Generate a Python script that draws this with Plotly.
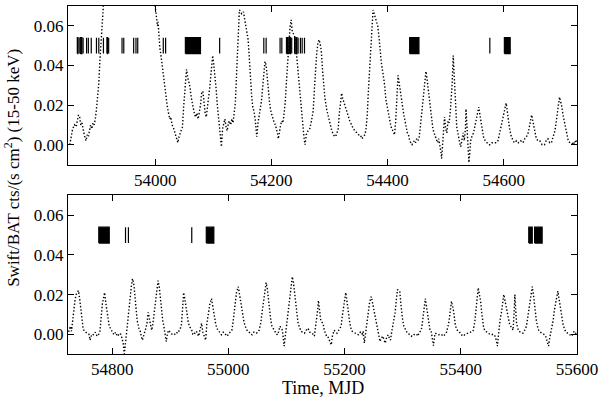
import plotly.graph_objs as go
from plotly.subplots import make_subplots

# Swift/BAT light curve, first part (top panel), MJD and rate
mjd_1 = [
    53853, 53856, 53858, 53861, 53864, 53866, 53868, 53870, 53872, 53874,
    53876, 53878, 53881, 53883, 53885, 53887, 53889, 53891, 53893, 53895,
    53897, 53899, 53901, 53903, 53905, 53907, 53909, 53911, 53913, 53996,
    53999, 54000, 54002, 54004, 54005, 54006, 54007, 54008, 54010, 54012,
    54014, 54016, 54018, 54019, 54021, 54023, 54025, 54027, 54029, 54031,
    54033, 54035, 54037, 54039, 54041, 54043, 54045, 54047, 54049, 54051,
    54053, 54054, 54056, 54058, 54060, 54062, 54064, 54066, 54068, 54070,
    54072, 54074, 54076, 54078, 54080, 54082, 54084, 54086, 54088, 54090,
    54092, 54094, 54096, 54098, 54099, 54101, 54103, 54105, 54107, 54109,
    54111, 54113, 54114, 54116, 54118, 54120, 54122, 54124, 54126, 54128,
    54130, 54132, 54134, 54136, 54138, 54139, 54141, 54143, 54145, 54147,
    54149, 54152, 54154, 54156, 54158, 54160, 54162, 54164, 54166, 54168,
    54170, 54172, 54174, 54175, 54177, 54179, 54181, 54183, 54185, 54187,
    54189, 54191, 54193, 54195, 54197, 54199, 54201, 54203, 54205, 54207,
    54209, 54211, 54212, 54214, 54216, 54218, 54220, 54222, 54224, 54226,
    54228, 54230, 54232, 54234, 54236, 54238, 54240, 54242, 54244, 54246,
    54248, 54250, 54252, 54254, 54256, 54258, 54260, 54263, 54266, 54269,
    54272, 54274, 54276, 54278, 54280, 54282, 54284, 54286, 54288, 54290,
    54292, 54295, 54298, 54301, 54304, 54307, 54309, 54312, 54315, 54317,
    54319, 54321, 54323, 54326, 54329, 54332, 54335, 54338, 54341, 54344,
    54347, 54350, 54353, 54356, 54358, 54361, 54363, 54365, 54367, 54369,
    54371, 54373, 54375, 54377, 54379, 54381, 54383, 54385, 54387, 54389,
    54391, 54393, 54395, 54397, 54400, 54402, 54404, 54406, 54409, 54412,
    54414, 54416, 54418, 54420, 54422, 54424, 54426, 54428, 54430, 54432,
    54434, 54436, 54438, 54440, 54442, 54444, 54446, 54448, 54450, 54452,
    54454, 54456, 54458, 54460, 54462, 54464, 54466, 54468, 54470, 54472,
    54474, 54476, 54478, 54480, 54482, 54484, 54486, 54488, 54490, 54492,
    54493, 54495, 54497, 54498, 54500, 54502, 54504, 54506, 54508, 54510,
    54511, 54513, 54515, 54516, 54518, 54519, 54521, 54522, 54524, 54526,
    54528, 54530, 54532, 54534, 54535, 54537, 54538, 54539, 54540, 54542,
    54543, 54545, 54548, 54550, 54552, 54554, 54557, 54559, 54561, 54563,
    54565, 54568, 54571, 54574, 54577, 54580, 54584, 54587, 54590, 54593,
    54595, 54598, 54600, 54602, 54604, 54606, 54608, 54610, 54613, 54616,
    54618, 54622, 54625, 54629, 54633, 54636, 54639, 54642, 54644, 54646,
    54648, 54650, 54652, 54654, 54656, 54659, 54662, 54666, 54670, 54673,
    54676, 54679, 54682, 54685, 54688, 54690, 54692, 54694, 54696, 54698,
    54700, 54702, 54705, 54708, 54711, 54714, 54717, 54720, 54722, 54725,
]
rate_1 = [
    0.000, 0.005, 0.008, 0.010, 0.009, 0.012, 0.015, 0.014, 0.010, 0.011,
    0.007, 0.005, 0.002, 0.005, 0.004, 0.008, 0.010, 0.008, 0.011, 0.010,
    0.013, 0.018, 0.023, 0.031, 0.043, 0.056, 0.066, 0.074, 0.080, 0.080,
    0.072, 0.069, 0.065, 0.060, 0.062, 0.055, 0.052, 0.049, 0.045, 0.040,
    0.034, 0.029, 0.025, 0.021, 0.019, 0.016, 0.013, 0.014, 0.010, 0.009,
    0.007, 0.005, 0.003, 0.001, 0.004, 0.006, 0.008, 0.009, 0.019, 0.027,
    0.033, 0.038, 0.034, 0.031, 0.029, 0.024, 0.021, 0.017, 0.015, 0.014,
    0.016, 0.013, 0.016, 0.020, 0.026, 0.027, 0.022, 0.016, 0.014, 0.018,
    0.024, 0.029, 0.036, 0.042, 0.045, 0.040, 0.035, 0.028, 0.020, 0.013,
    0.006, 0.000, -0.001, 0.008, 0.011, 0.013, 0.009, 0.007, 0.011, 0.012,
    0.010, 0.013, 0.011, 0.016, 0.021, 0.028, 0.039, 0.055, 0.068, 0.067,
    0.066, 0.067, 0.064, 0.060, 0.057, 0.053, 0.044, 0.033, 0.025, 0.019,
    0.017, 0.013, 0.006, 0.004, 0.011, 0.015, 0.017, 0.022, 0.029, 0.036,
    0.042, 0.040, 0.033, 0.027, 0.021, 0.017, 0.015, 0.012, 0.011, 0.010,
    0.008, 0.005, 0.003, 0.008, 0.010, 0.012, 0.011, 0.016, 0.022, 0.032,
    0.043, 0.051, 0.059, 0.063, 0.057, 0.056, 0.055, 0.050, 0.043, 0.036,
    0.030, 0.022, 0.016, 0.009, 0.004, 0.000, 0.005, 0.007, 0.008, 0.012,
    0.017, 0.028, 0.039, 0.046, 0.051, 0.053, 0.051, 0.047, 0.038, 0.031,
    0.024, 0.018, 0.014, 0.010, 0.007, 0.005, 0.004, 0.005, 0.008, 0.016,
    0.023, 0.026, 0.023, 0.020, 0.017, 0.014, 0.012, 0.010, 0.008, 0.007,
    0.006, 0.005, 0.005, 0.003, 0.004, 0.005, 0.008, 0.015, 0.027, 0.039,
    0.050, 0.060, 0.068, 0.066, 0.064, 0.063, 0.060, 0.055, 0.047, 0.042,
    0.038, 0.034, 0.030, 0.023, 0.019, 0.016, 0.012, 0.009, 0.007, 0.005,
    0.012, 0.025, 0.035, 0.031, 0.026, 0.022, 0.019, 0.015, 0.012, 0.009,
    0.006, 0.005, 0.002, 0.001, 0.000, 0.001, 0.002, 0.001, 0.003, 0.002,
    0.003, 0.008, 0.014, 0.020, 0.026, 0.032, 0.037, 0.033, 0.028, 0.021,
    0.016, 0.012, 0.008, 0.006, 0.004, 0.003, 0.001, 0.003, 0.000, -0.004,
    -0.007, 0.000, 0.010, 0.014, 0.008, 0.006, 0.012, 0.011, 0.017, 0.024,
    0.030, 0.045, 0.034, 0.026, 0.015, 0.009, 0.006, 0.004, 0.001, -0.001,
    0.004, 0.006, 0.002, 0.008, 0.018, 0.006, -0.001, -0.005, -0.009, -0.002,
    0.002, 0.004, 0.006, 0.009, 0.012, 0.015, 0.019, 0.015, 0.011, 0.007,
    0.004, 0.002, 0.001, 0.000, 0.000, 0.001, 0.001, 0.001, 0.002, 0.006,
    0.010, 0.013, 0.016, 0.019, 0.021, 0.017, 0.012, 0.008, 0.004, 0.002,
    0.001, 0.002, 0.001, 0.002, 0.001, 0.003, 0.004, 0.006, 0.009, 0.012,
    0.015, 0.012, 0.009, 0.005, 0.003, 0.002, 0.002, 0.000, 0.000, 0.002,
    0.003, 0.001, 0.001, 0.004, 0.007, 0.011, 0.017, 0.020, 0.024, 0.022,
    0.019, 0.015, 0.010, 0.005, 0.002, 0.001, 0.001, 0.000, 0.002, 0.001,
]

# second part (bottom panel)
mjd_2 = [
    54728, 54730, 54732, 54734, 54736, 54738, 54740, 54742, 54744, 54746,
    54748, 54750, 54752, 54755, 54758, 54760, 54762, 54765, 54768, 54771,
    54774, 54777, 54779, 54781, 54783, 54785, 54787, 54789, 54791, 54793,
    54795, 54797, 54800, 54803, 54806, 54809, 54812, 54814, 54817, 54819,
    54821, 54823, 54825, 54827, 54829, 54831, 54833, 54835, 54837, 54839,
    54841, 54843, 54846, 54848, 54850, 54852, 54854, 54856, 54858, 54860,
    54862, 54864, 54866, 54868, 54870, 54872, 54874, 54876, 54878, 54879,
    54881, 54883, 54885, 54887, 54889, 54891, 54893, 54895, 54897, 54900,
    54903, 54907, 54910, 54913, 54916, 54919, 54921, 54923, 54925, 54927,
    54929, 54931, 54933, 54935, 54937, 54939, 54941, 54943, 54945, 54947,
    54949, 54951, 54954, 54956, 54958, 54961, 54963, 54966, 54968, 54971,
    54973, 54975, 54978, 54980, 54983, 54986, 54988, 54991, 54994, 54997,
    55000, 55003, 55006, 55008, 55010, 55012, 55014, 55017, 55019, 55021,
    55023, 55025, 55027, 55029, 55032, 55035, 55038, 55041, 55044, 55048,
    55051, 55053, 55056, 55058, 55060, 55062, 55065, 55067, 55069, 55071,
    55073, 55075, 55078, 55080, 55083, 55085, 55087, 55089, 55091, 55093,
    55096, 55098, 55100, 55102, 55104, 55106, 55108, 55110, 55112, 55114,
    55116, 55118, 55120, 55123, 55125, 55128, 55131, 55134, 55137, 55140,
    55143, 55146, 55148, 55150, 55152, 55154, 55155, 55157, 55159, 55161,
    55163, 55165, 55167, 55169, 55171, 55174, 55177, 55179, 55182, 55185,
    55187, 55190, 55194, 55196, 55198, 55200, 55202, 55204, 55205, 55207,
    55209, 55211, 55213, 55216, 55218, 55221, 55224, 55227, 55230, 55232,
    55234, 55236, 55239, 55241, 55243, 55246, 55248, 55250, 55253, 55255,
    55257, 55259, 55261, 55263, 55266, 55268, 55270, 55272, 55275, 55277,
    55279, 55281, 55283, 55285, 55287, 55289, 55291, 55293, 55295, 55297,
    55298, 55300, 55302, 55305, 55308, 55311, 55315, 55318, 55321, 55324,
    55326, 55329, 55332, 55334, 55336, 55338, 55339, 55341, 55342, 55344,
    55345, 55347, 55349, 55351, 55353, 55355, 55356, 55359, 55362, 55366,
    55370, 55373, 55375, 55378, 55380, 55382, 55384, 55386, 55388, 55390,
    55391, 55394, 55397, 55400, 55404, 55408, 55413, 55417, 55421, 55424,
    55426, 55428, 55430, 55432, 55434, 55436, 55437, 55439, 55441, 55444,
    55447, 55450, 55453, 55456, 55459, 55461, 55463, 55465, 55466, 55468,
    55470, 55472, 55474, 55476, 55478, 55480, 55482, 55484, 55486, 55488,
    55490, 55492, 55493, 55495, 55496, 55498, 55500, 55503, 55507, 55510,
    55513, 55515, 55517, 55519, 55521, 55523, 55525, 55526, 55528, 55530,
    55532, 55534, 55537, 55540, 55543, 55546, 55548, 55551, 55553, 55555,
    55557, 55559, 55561, 55563, 55565, 55567, 55569, 55570, 55572, 55574,
    55576, 55578, 55581, 55584, 55587, 55590, 55593, 55595, 55598, 55600,
]
rate_2 = [
    0.004, 0.0015, 0.008, 0.013, 0.017, 0.020, 0.021, 0.022, 0.018, 0.012,
    0.007, 0.003, 0.0015, 0.001, 0.0005, 0.000, -0.003, 0.000, -0.0003, 0.001,
    -0.001, 0.000, 0.0015, 0.011, 0.015, 0.018, 0.021, 0.016, 0.012, 0.007,
    0.004, 0.003, 0.001, -0.0003, 0.001, -0.001, 0.000, 0.0005, -0.002, -0.0045,
    -0.010, -0.004, 0.0005, 0.006, 0.011, 0.018, 0.024, 0.028, 0.026, 0.020,
    0.014, 0.007, 0.003, 0.002, -0.001, -0.003, -0.001, 0.0005, 0.003, 0.0055,
    0.011, 0.008, 0.004, 0.002, 0.005, 0.010, 0.016, 0.021, 0.025, 0.027,
    0.024, 0.018, 0.011, 0.007, 0.004, 0.000, -0.0037, 0.000, 0.002, 0.001,
    0.000, -0.0003, 0.001, 0.0005, 0.002, 0.004, 0.012, 0.021, 0.018, 0.013,
    0.009, 0.006, 0.004, 0.003, 0.002, 0.000, -0.0003, 0.001, 0.0015, 0.000,
    -0.001, 0.002, 0.0055, 0.001, -0.001, -0.003, 0.0055, 0.012, 0.015, 0.018,
    0.014, 0.010, 0.0055, 0.003, 0.0015, 0.000, -0.0003, 0.001, 0.0005, -0.001,
    -0.0003, 0.001, 0.002, 0.006, 0.011, 0.016, 0.021, 0.024, 0.020, 0.017,
    0.013, 0.009, 0.006, 0.004, 0.002, 0.0015, 0.000, -0.0003, 0.001, 0.0005,
    0.001, 0.002, 0.006, 0.011, 0.016, 0.021, 0.026, 0.023, 0.017, 0.011,
    0.007, 0.004, 0.002, 0.0015, 0.000, -0.0003, 0.002, 0.004, 0.003, 0.002,
    -0.006, -0.001, 0.0015, 0.007, 0.013, 0.019, 0.024, 0.029, 0.026, 0.021,
    0.014, 0.010, 0.0055, 0.003, 0.0015, 0.001, 0.0005, 0.002, 0.003, 0.001,
    0.0005, 0.000, -0.001, 0.003, 0.007, 0.013, 0.017, 0.012, 0.007, 0.006,
    0.0055, 0.002, 0.0005, -0.001, -0.001, -0.003, -0.0054, -0.001, 0.002, 0.001,
    0.0005, 0.002, 0.004, 0.009, 0.014, 0.018, 0.021, 0.017, 0.014, 0.009,
    0.0055, 0.003, 0.0015, 0.001, 0.0005, 0.000, -0.0003, 0.001, 0.000, 0.0015,
    -0.0045, 0.000, 0.0055, 0.011, 0.016, 0.019, 0.016, 0.012, 0.007, 0.004,
    0.002, -0.001, -0.0037, -0.002, -0.001, -0.003, -0.0045, -0.002, -0.0003, -0.002,
    -0.003, 0.001, 0.004, 0.008, 0.011, 0.017, 0.0225, 0.022, 0.0217, 0.015,
    0.011, 0.007, 0.004, 0.002, 0.0005, 0.000, -0.001, 0.000, -0.0003, 0.000,
    -0.001, 0.001, 0.002, 0.006, 0.011, 0.016, 0.018, 0.014, 0.012, 0.007,
    0.004, 0.002, 0.0015, -0.002, -0.0058, -0.001, 0.0005, 0.000, -0.0003, 0.000,
    -0.001, 0.000, 0.0005, 0.004, 0.007, 0.012, 0.0166, 0.014, 0.011, 0.006,
    0.004, 0.002, 0.0015, 0.000, -0.001, 0.000, 0.0005, 0.001, 0.0015, 0.006,
    0.011, 0.017, 0.0234, 0.020, 0.017, 0.011, 0.007, 0.004, 0.002, 0.001,
    0.0005, 0.000, -0.0003, 0.000, -0.001, -0.003, -0.006, 0.000, 0.004, 0.008,
    0.011, 0.016, 0.020, 0.017, 0.014, 0.010, 0.007, 0.005, 0.004, 0.003,
    0.002, 0.012, 0.020, 0.010, 0.0055, 0.003, 0.0015, 0.001, 0.0005, 0.002,
    0.004, 0.008, 0.012, 0.017, 0.0225, 0.024, 0.020, 0.017, 0.012, 0.007,
    0.004, 0.002, 0.001, 0.0005, 0.000, -0.001, -0.003, -0.006, -0.002, 0.0005,
    0.003, 0.007, 0.012, 0.016, 0.019, 0.0217, 0.018, 0.016, 0.012, 0.009,
    0.005, 0.003, 0.001, 0.0005, 0.000, -0.001, 0.000, 0.0015, 0.000, -0.0003,
]

# pointed observations (start, end MJD)
obs_start = [53866, 53869, 53871, 53876, 53882, 53885, 53890, 53899, 53903, 53911,
             53917, 53920, 53943, 53946, 53963, 53967, 53970, 54014, 54018, 54052,
             54111, 54187, 54191, 54215, 54218, 54226, 54231, 54235, 54240, 54243,
             54246, 54250, 54253, 54257, 54438, 54576, 54601,
             54777, 54823, 54828, 54937, 54962, 55517, 55527]
obs_end = [53867, 53869, 53874, 53876, 53882, 53885, 53890, 53899, 53903, 53911,
           53918, 53920, 53943, 53946, 53963, 53967, 53970, 54014, 54018, 54078,
           54111, 54187, 54191, 54215, 54218, 54229, 54233, 54235, 54241, 54244,
           54246, 54250, 54253, 54257, 54454, 54576, 54611,
           54795, 54823, 54828, 54937, 54975, 55523, 55540]
obs_lo, obs_hi = 0.046, 0.054

x_ticks_1 = [54000, 54200, 54400, 54600]
x_ticks_2 = [54800, 55000, 55200, 55400, 55600]
y_ticks = [0.0, 0.02, 0.04, 0.06]

mjd = mjd_1 + mjd_2
rate = rate_1 + rate_2

ox, oy = [], []
for s, e in zip(obs_start, obs_end):
    ox += [s, e, e, s, s, None]
    oy += [obs_lo, obs_lo, obs_hi, obs_hi, obs_lo, None]

fig = make_subplots(rows=2, cols=1, vertical_spacing=0.089)
for r in (1, 2):
    fig.add_trace(go.Scatter(x=mjd, y=rate, mode='lines',
                             line=dict(color='black', width=1.4, dash='1.4px,2px'),
                             showlegend=False), row=r, col=1)
    fig.add_trace(go.Scatter(x=ox, y=oy, mode='lines', fill='toself',
                             fillcolor='black', line=dict(color='black', width=1.2),
                             showlegend=False), row=r, col=1)

serif = 'Liberation Serif, Times New Roman, serif'
font = dict(family=serif, size=17, color='black')
title_font = dict(family=serif, size=18, color='black')
ax = dict(showline=True, linecolor='black', linewidth=1, mirror='allticks',
          ticks='inside', ticklen=6, tickwidth=1, tickcolor='black',
          showgrid=False, zeroline=False, tickfont=font, automargin=False)

fig.update_xaxes(ax)
fig.update_yaxes(ax)
fig.update_xaxes(range=[53850, 54726], tickvals=x_ticks_1, tickformat='d', row=1, col=1)
fig.update_xaxes(range=[54724, 55600], tickvals=x_ticks_2, tickformat='d', row=2, col=1)
fig.update_yaxes(range=[-0.01, 0.07], tickvals=y_ticks, tickformat='.2f')

fig.add_annotation(text='Swift/BAT cts/(s cm<sup>2</sup>) (15-50 keV)',
                   xref='paper', yref='paper', x=-0.11, y=0.535,
                   textangle=-90, showarrow=False, font=font,
                   xanchor='center', yanchor='middle')
fig.add_annotation(text='Time, MJD', xref='paper', yref='paper', x=0.5, y=-0.099,
                   showarrow=False, font=title_font, xanchor='center', yanchor='middle')

fig.update_layout(width=600, height=398, margin=dict(l=68, r=23, t=6, b=44),
                  plot_bgcolor='white', paper_bgcolor='white')

fig.write_html("out.html", config={'displayModeBar': False},
               post_script="document.body.style.margin='0';")
